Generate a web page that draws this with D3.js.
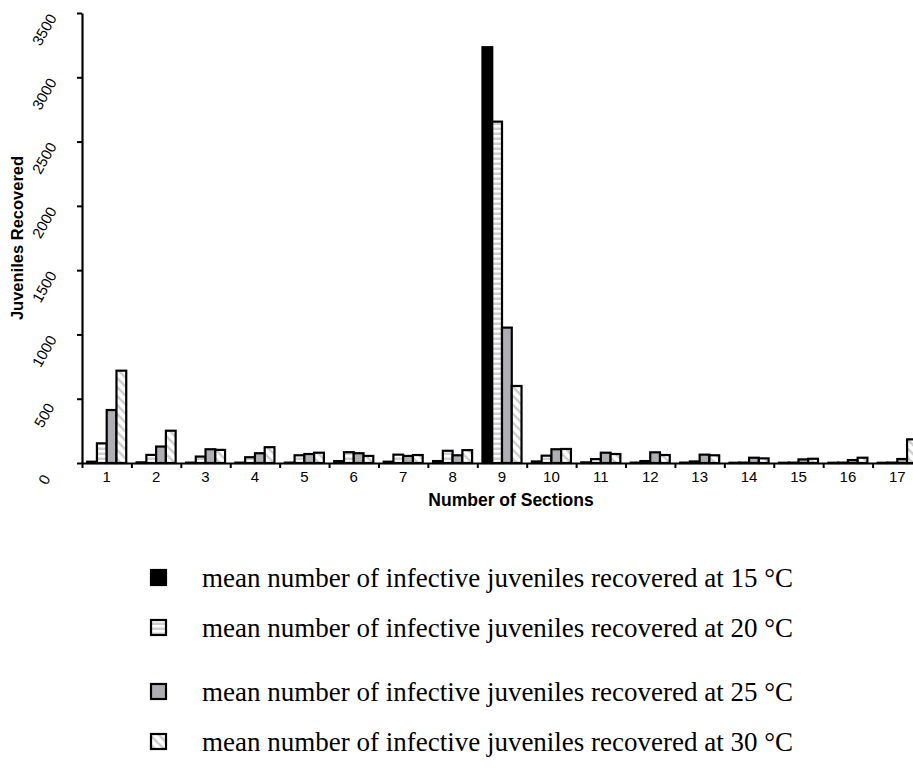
<!DOCTYPE html>
<html><head><meta charset="utf-8">
<script src="https://cdn.jsdelivr.net/npm/d3@7"></script>
<style>body{margin:0;background:#fff}svg{display:block}</style>
</head><body>
<svg id="chart" width="913" height="777"></svg>
<script>
const sections = ["1","2","3","4","5","6","7","8","9","10","11","12","13","14","15","16","17"];
const series = ["15","20","25","30"];
const t15 = [10, 5, 3, 3, 3, 15, 10, 15, 3234, 12, 5, 3, 3, 2, 2, 2, 2];
const t20 = [153, 63, 50, 45, 60, 84, 65, 95, 2655, 57, 30, 15, 12, 3, 3, 3, 3];
const t25 = [412, 128, 107, 76, 70, 76, 55, 60, 1053, 107, 80, 83, 65, 41, 28, 23, 31];
const t30 = [718, 251, 102, 123, 80, 55, 62, 100, 599, 109, 70, 62, 60, 36, 33, 41, 184];
const yTicks = [0, 500, 1000, 1500, 2000, 2500, 3000, 3500];
const legendLabels = [
  "mean number of infective juveniles recovered at 15 °C",
  "mean number of infective juveniles recovered at 20 °C",
  "mean number of infective juveniles recovered at 25 °C",
  "mean number of infective juveniles recovered at 30 °C"
];
const xTitle = "Number of Sections";
const yTitle = "Juveniles Recovered";

const valuesBySeries = {"15": t15, "20": t20, "25": t25, "30": t30};
const fills = {"15": "#000", "20": "url(#hstripe)", "25": "#aeaeb4", "30": "url(#dstripe)"};

const svg = d3.select("#chart");
const defs = svg.append("defs");
const hp = defs.append("pattern").attr("id","hstripe").attr("patternUnits","userSpaceOnUse")
  .attr("width",8).attr("height",5);
hp.append("rect").attr("width",8).attr("height",5).attr("fill","#fff");
hp.append("rect").attr("y",2.5).attr("width",8).attr("height",2.5).attr("fill","#cfcfcf");
const dp = defs.append("pattern").attr("id","dstripe").attr("patternUnits","userSpaceOnUse")
  .attr("width",9).attr("height",9);
dp.append("rect").attr("width",9).attr("height",9).attr("fill","#fff");
dp.append("path").attr("d","M-2,-2 L11,11 M-2,7 L2,11 M7,-2 L11,2").attr("stroke","#d0d0d0").attr("stroke-width",2.6);

const x0 = d3.scaleBand().domain(sections).range([82, 922]);
const x1 = d3.scaleBand().domain(series).range([0, x0.bandwidth()]).paddingOuter(0.53);
const y = d3.scaleLinear().domain([0, 3500]).range([463, 13]);
const xb = d3.scaleLinear().domain([0, sections.length]).range(x0.range());

const data = [];
sections.forEach((s, i) => series.forEach(k => data.push({s, k, v: valuesBySeries[k][i]})));

svg.append("g").selectAll("rect").data(data).join("rect")
  .attr("x", d => x0(d.s) + x1(d.k))
  .attr("y", d => y(d.v))
  .attr("width", x1.bandwidth())
  .attr("height", d => y(0) - y(d.v))
  .attr("fill", d => fills[d.k])
  .attr("stroke", "#000").attr("stroke-width", 2.2);

// Y axis
const ya = svg.append("g").attr("transform","translate(82,0)")
  .call(d3.axisLeft(y).tickValues(yTicks).tickFormat(d3.format("d")).tickSize(5).tickSizeOuter(0).tickPadding(0));
ya.select(".domain").attr("stroke-width",2.2);
ya.selectAll(".tick line").attr("stroke-width",2);
ya.selectAll(".tick text")
  .attr("x", null).attr("dy", null)
  .attr("text-anchor","middle")
  .attr("dominant-baseline","central")
  .attr("transform","translate(-38,16) rotate(-60)")
  .style("font-family","'Liberation Sans', Arial, sans-serif")
  .style("font-size","15px").attr("fill","#000");

// X axis boundary ticks
const xa = svg.append("g").attr("transform","translate(0,463)")
  .call(d3.axisBottom(xb).tickValues(d3.range(0, sections.length + 1)).tickSize(5).tickSizeOuter(0).tickFormat(""));
xa.select(".domain").attr("stroke-width",2.2);
xa.selectAll(".tick line").attr("stroke-width",2);
// X labels
const xl = svg.append("g").attr("transform","translate(0,463)")
  .call(d3.axisBottom(x0).tickSize(0).tickPadding(8));
xl.select(".domain").remove();
xl.selectAll(".tick text")
  .style("font-family","'Liberation Sans', Arial, sans-serif")
  .style("font-size","15px").attr("fill","#000");

svg.append("text").attr("x", 511).attr("y", 506).attr("text-anchor","middle")
  .style("font-family","'Liberation Sans', Arial, sans-serif").style("font-weight","bold").style("font-size","17.5px")
  .text(xTitle);
svg.append("text").attr("transform","translate(23,238) rotate(-90)").attr("text-anchor","middle")
  .style("font-family","'Liberation Sans', Arial, sans-serif").style("font-weight","bold").style("font-size","16.5px")
  .text(yTitle);

// Legend
const legendRowY = {"15": 578, "20": 628, "25": 692, "30": 742};
const lg = svg.append("g");
series.forEach((k, i) => {
  const cy = legendRowY[k];
  lg.append("rect").attr("x", 151).attr("y", cy - 8).attr("width", 15).attr("height", 15)
    .attr("fill", fills[k]).attr("stroke","#000").attr("stroke-width",2.2);
  lg.append("text").attr("x", 202).attr("y", cy).attr("dominant-baseline","central")
    .style("font-family","'Liberation Serif', 'Times New Roman', serif").style("font-size","27px")
    .text(legendLabels[i]);
});
</script>
</body></html>
